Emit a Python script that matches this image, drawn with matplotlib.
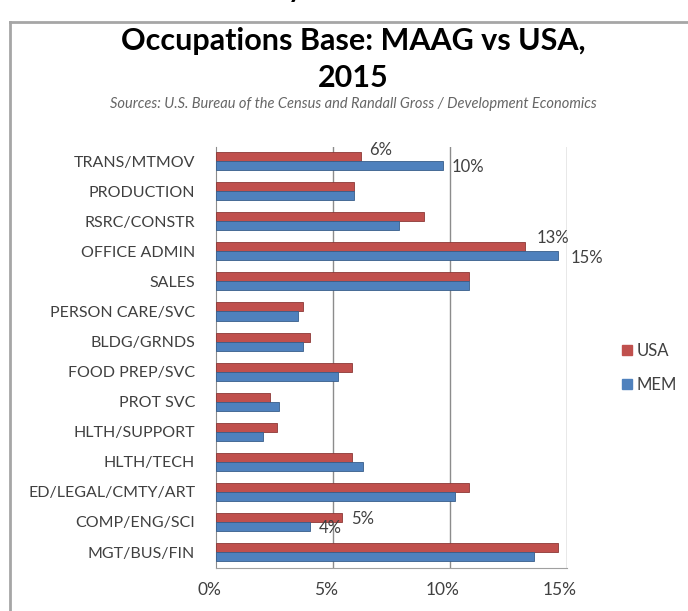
import matplotlib
matplotlib.use("Agg")
import matplotlib.pyplot as plt
import matplotlib.transforms as mtransforms
from matplotlib.lines import Line2D
import numpy as np

categories = ["TRANS/MTMOV", "PRODUCTION", "RSRC/CONSTR", "OFFICE ADMIN", "SALES",
              "PERSON CARE/SVC", "BLDG/GRNDS", "FOOD PREP/SVC", "PROT SVC",
              "HLTH/SUPPORT", "HLTH/TECH", "ED/LEGAL/CMTY/ART", "COMP/ENG/SCI",
              "MGT/BUS/FIN"]
usa = [6.2, 5.9, 8.9, 13.2, 10.8, 3.7, 4.0, 5.8, 2.3, 2.6, 5.8, 10.8, 5.4, 14.6]
mem = [9.7, 5.9, 7.8, 14.6, 10.8, 3.5, 3.7, 5.2, 2.7, 2.0, 6.3, 10.2, 4.0, 13.6]
xticks = [0, 5, 10, 15]
xticklabels = ["0%", "5%", "10%", "15%"]
series_names = ["USA", "MEM"]

RED = "#C0504D"
BLUE = "#4F81BD"
TXT = "#404040"
FONT = "Lato"

W, H = 688, 611
fig = plt.figure(figsize=(W / 100, H / 100), dpi=100)
fig.patch.set_facecolor("white")

# outer chart border (only left and top visible in the screenshot)
fig.add_artist(Line2D([10 / W, 10 / W], [-0.1, 1 - 22 / H], transform=fig.transFigure,
                      color="#a6a6a6", lw=2))
fig.add_artist(Line2D([10 / W, 1.1], [1 - 22 / H, 1 - 22 / H], transform=fig.transFigure,
                      color="#a6a6a6", lw=2))
# clipped glyph from text above the screenshot
fig.text(295 / W, 1 + 3 / H, "y", ha="center", va="baseline", fontsize=20,
         fontweight="bold", family=FONT, color="black")

ax = fig.add_axes([216 / W, 1 - 568 / H, (567 - 216) / W, (568 - 147) / H])
y = np.arange(len(categories))
h = 0.3
ax.barh(y - h / 2, usa, height=h, color=RED, edgecolor="#8c3836", linewidth=0.6,
        label=series_names[0], zorder=3)
ax.barh(y + h / 2, mem, height=h, color=BLUE, edgecolor="#385d8a", linewidth=0.6,
        label=series_names[1], zorder=3)

ax.set_xlim(0, 15)
ax.set_ylim(len(categories) - 0.47, -0.47)
ax.set_yticks(y)
ax.set_yticklabels(categories, fontsize=11.5, color=TXT, family=FONT)
ax.set_xticks(xticks)
ax.set_xticklabels(xticklabels, fontsize=12.5, color=TXT, family=FONT)
ax.tick_params(axis="y", length=0, pad=15)
ax.tick_params(axis="x", length=0, pad=10)
offset = mtransforms.ScaledTranslation(-7 / 100, 0, fig.dpi_scale_trans)
for lab in ax.get_xticklabels():
    lab.set_transform(lab.get_transform() + offset)

for x in xticks[1:]:
    ax.axvline(x, color="#8c8c8c", lw=1, zorder=1)
for s in ["top", "right"]:
    ax.spines[s].set_visible(False)
ax.spines["left"].set_color("#8c8c8c")
ax.spines["bottom"].set_color("#a0a0a0")

# data labels (offsets relative to the category centre; bars sit +/-3.2pt from it)
def lab(i, vals, dx, dy):
    ax.annotate(f"{vals[i]:.0f}%", xy=(vals[i], y[i]), xytext=(dx, dy),
                textcoords="offset points", fontsize=12, color=TXT, family=FONT,
                ha="left", va="center", zorder=5)

lab(0, usa, 5.8, 7.9)
lab(0, mem, 6.5, -4.2)
lab(3, usa, 8.6, 9.7)
lab(3, mem, 9.4, -5.0)
lab(12, usa, 6.5, 1.8)
lab(12, mem, 6.5, -4.6)

# legend
handles = [Line2D([], [], marker="s", color=c, linestyle="", markersize=6.5)
           for c in (RED, BLUE)]
fig.legend(handles, series_names, loc="center left",
           bbox_to_anchor=(621 / W, 1 - 368 / H), frameon=False,
           borderpad=0, borderaxespad=0,
           labelspacing=1.1, handletextpad=0.26, handlelength=0.7,
           prop={"family": FONT, "size": 12}, labelcolor=TXT)

fig.text(353 / W, 1 - 50 / H, "Occupations Base: MAAG vs USA,", ha="center", va="baseline",
         fontsize=22, fontweight="bold", family=FONT, color="black")
fig.text(353 / W, 1 - 87 / H, "2015", ha="center", va="baseline",
         fontsize=22, fontweight="bold", family=FONT, color="black")
fig.text(353 / W, 1 - 108 / H,
         "Sources: U.S. Bureau of the Census and Randall Gross / Development Economics",
         ha="center", va="baseline", fontsize=10.5, style="italic", family=FONT, color="#666666")

fig.savefig("out.png", dpi=100)
